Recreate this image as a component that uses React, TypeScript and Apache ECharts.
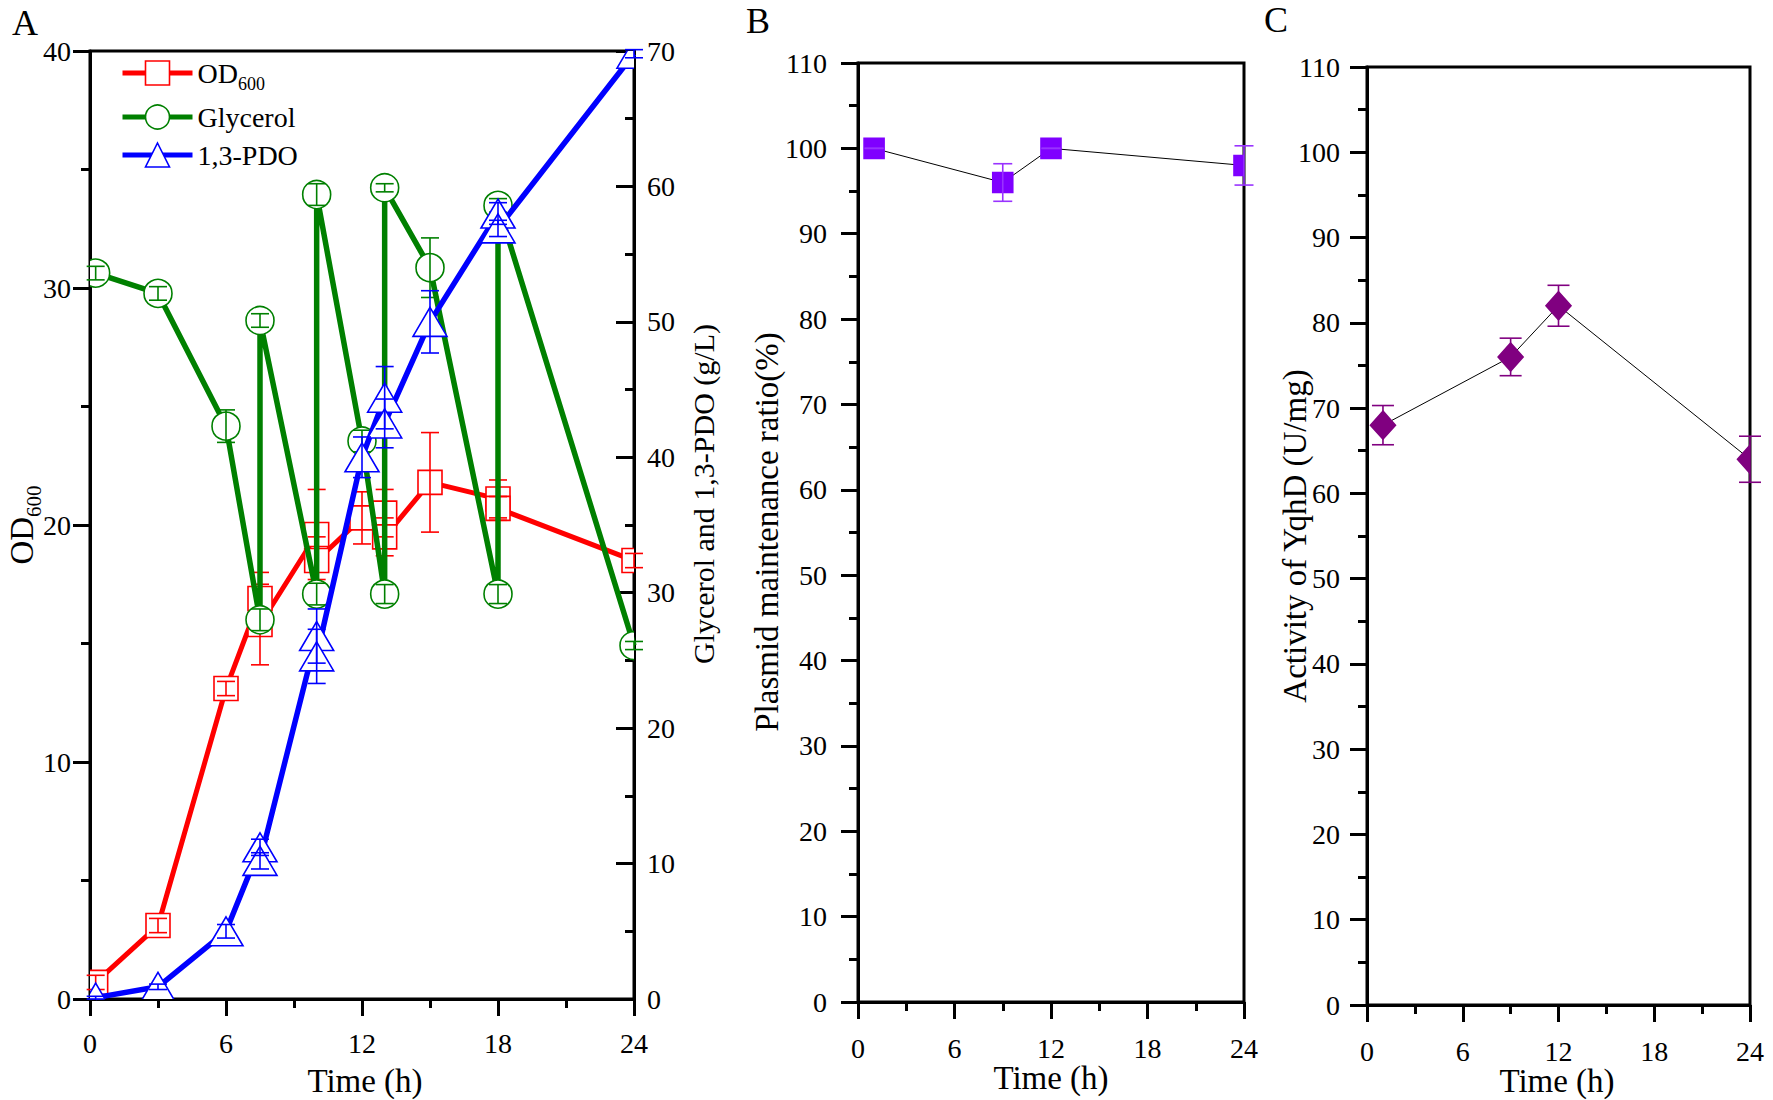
import React, { useEffect, useRef } from "react";
import * as echarts from "echarts";

const FONT = "'Liberation Serif', 'Times New Roman', serif";

// ---------- Panel A: fed-batch fermentation ----------
const sampleTimes = [0.25, 3, 6, 7.5, 7.5, 10, 10, 12, 13, 13, 15, 18, 18, 24];
const od600 = [0.7, 3.1, 13.1, 16.9, 15.8, 19.6, 18.5, 20.3, 20.5, 19.5, 21.8, 21.1, 20.7, 18.5];
const od600Err = [0.3, 0.3, 0.3, 1.1, 1.7, 1.9, 1.0, 1.1, 1.0, 0.8, 2.1, 0.8, 0.5, 0.3];
const glycerol = [53.6, 52.1, 42.3, 28.0, 50.1, 29.9, 59.4, 41.2, 29.9, 59.9, 54.0, 29.9, 58.6, 26.1];
const glycerolErr = [0.5, 0.5, 1.2, 0.8, 0.5, 0.8, 0.8, 0.8, 0.7, 0.3, 2.2, 0.7, 0.5, 0.3];
const pdo = [0.1, 0.9, 5.0, 11.2, 10.2, 26.8, 25.3, 40.0, 44.4, 42.5, 50.0, 58.0, 56.9, 69.8];
const pdoErr = [0.1, 0.2, 0.5, 0.6, 0.6, 2.0, 2.0, 1.5, 2.3, 1.8, 2.3, 0.8, 0.6, 0.3];
const seriesNamesA = ["OD600", "Glycerol", "1,3-PDO"];

// ---------- Panel B: plasmid maintenance ----------
const plasmidTimes = [1, 9, 12, 24];
const plasmidRatio = [100, 96, 100, 98];
const plasmidErr = [0, 2.2, 0, 2.3];

// ---------- Panel C: YqhD activity ----------
const activityTimes = [1, 9, 12, 24];
const yqhdActivity = [68, 76, 82, 64];
const yqhdErr = [2.3, 2.2, 2.4, 2.7];

// ---------- Axis ranges ----------
const timeRange = { min: 0, max: 24, interval: 6 };
const odRange = { min: 0, max: 40, interval: 10 };
const gLRange = { min: 0, max: 70, interval: 10 };
const pctRange = { min: 0, max: 110, interval: 10 };

const BLACK = "#000";
const RED = "#ff0000";
const GREEN = "#008000";
const BLUE = "#0000ff";
const VIOLET = "#7f00ff";
const PURPLE = "#800080";
const TICK_FS = 28;

const zip = (a: number[], b: number[]) => a.map((t, i) => [t, b[i]]);

function axisBase(range: any, gridIndex: number, labelMargin: number, extra: any = {}) {
  return {
    type: "value",
    gridIndex,
    ...range,
    axisLine: { show: true, onZero: false, lineStyle: { color: BLACK, width: 3 } },
    axisTick: { show: true, inside: false, length: 17, lineStyle: { color: BLACK, width: 3 } },
    minorTick: { show: true, splitNumber: 2, length: 9, lineStyle: { color: BLACK, width: 3 } },
    axisLabel: { margin: labelMargin, fontSize: TICK_FS, fontFamily: FONT, color: BLACK },
    splitLine: { show: false },
    minorSplitLine: { show: false },
    ...extra,
  };
}

function errorSeries(xi: number, yi: number, times: number[], vals: number[], errs: number[], color: string, cap: number, z: number) {
  return {
    type: "custom",
    name: "err" + z,
    xAxisIndex: xi,
    yAxisIndex: yi,
    z,
    silent: true,
    clip: false,
    encode: { x: 0, y: [1, 2] },
    data: times.map((t, i) => [t, vals[i] - errs[i], vals[i] + errs[i]]),
    renderItem: (_p: any, api: any) => {
      const x = api.value(0);
      const lo = api.coord([x, api.value(1)]);
      const hi = api.coord([x, api.value(2)]);
      const st = { stroke: color, lineWidth: 1.6, fill: null };
      return {
        type: "group",
        children: [
          { type: "line", shape: { x1: hi[0], y1: hi[1], x2: lo[0], y2: lo[1] }, style: st },
          { type: "line", shape: { x1: hi[0] - cap, y1: hi[1], x2: hi[0] + cap, y2: hi[1] }, style: st },
          { type: "line", shape: { x1: lo[0] - cap, y1: lo[1], x2: lo[0] + cap, y2: lo[1] }, style: st },
        ],
      };
    },
  };
}

function markerSeries(xi: number, yi: number, times: number[], vals: number[], shape: string, w: number, h: number, fill: string, stroke: string, z: number) {
  return {
    type: "custom",
    name: "mk" + z,
    xAxisIndex: xi,
    yAxisIndex: yi,
    z,
    silent: true,
    clip: true,
    encode: { x: 0, y: 1 },
    data: zip(times, vals),
    renderItem: (_p: any, api: any) => {
      const p = api.coord([api.value(0), api.value(1)]);
      const style = { fill, stroke, lineWidth: 1.6 };
      const hw = w / 2;
      const hh = h / 2;
      if (shape === "rect") {
        return { type: "rect", shape: { x: p[0] - hw, y: p[1] - hh, width: w, height: h }, style };
      }
      if (shape === "circle") {
        return { type: "circle", shape: { cx: p[0], cy: p[1], r: hw }, style };
      }
      if (shape === "triangle") {
        return {
          type: "polygon",
          shape: { points: [[p[0], p[1] - hh], [p[0] + hw, p[1] + hh], [p[0] - hw, p[1] + hh]] },
          style,
        };
      }
      return {
        type: "polygon",
        shape: { points: [[p[0], p[1] - hh], [p[0] + hw, p[1]], [p[0], p[1] + hh], [p[0] - hw, p[1]]] },
        style,
      };
    },
  };
}

function lineSeries(name: string, xi: number, yi: number, times: number[], vals: number[], color: string, width: number, symbol: string, z: number) {
  return {
    name,
    type: "line",
    xAxisIndex: xi,
    yAxisIndex: yi,
    z,
    data: zip(times, vals),
    symbol,
    showSymbol: false,
    silent: true,
    lineStyle: { color, width },
    itemStyle: { color: "#fff", borderColor: color, borderWidth: 1.6 },
  };
}

function titleText(text: string, x: number, y: number, size: number, rotate = false, rich?: any) {
  return {
    type: "text",
    x,
    y,
    rotation: rotate ? Math.PI / 2 : 0,
    silent: true,
    style: {
      text,
      fill: BLACK,
      fontSize: size,
      fontFamily: FONT,
      align: "center",
      verticalAlign: "middle",
      rich,
    },
  };
}

const subRich = (big: number, small: number, pad: number) => ({
  m: { fontSize: big, fontFamily: FONT, lineHeight: big + 2, fill: BLACK, color: BLACK },
  s: { fontSize: small, fontFamily: FONT, lineHeight: small, padding: [pad, 0, 0, 0], fill: BLACK, color: BLACK },
});

const option: any = {
  animation: false,
  backgroundColor: "#fff",
  textStyle: { fontFamily: FONT },
  grid: [
    { left: 90, top: 51, width: 544, height: 948, show: true, borderColor: BLACK, borderWidth: 3, backgroundColor: "transparent" },
    { left: 858, top: 63, width: 386, height: 939, show: true, borderColor: BLACK, borderWidth: 3, backgroundColor: "transparent" },
    { left: 1367, top: 67, width: 383, height: 938, show: true, borderColor: BLACK, borderWidth: 3, backgroundColor: "transparent" },
  ],
  legend: {
    orient: "vertical",
    left: 120,
    top: 53,
    padding: 0,
    itemGap: 10,
    itemWidth: 70,
    itemHeight: 30,
    selectedMode: false,
    lineStyle: { width: 5 },
    data: [
      { name: seriesNamesA[0], itemStyle: { color: "#fff", borderColor: RED, borderWidth: 1.6 } },
      { name: seriesNamesA[1], itemStyle: { color: "#fff", borderColor: GREEN, borderWidth: 1.6 } },
      { name: seriesNamesA[2], itemStyle: { color: "#fff", borderColor: BLUE, borderWidth: 1.6 } },
    ],
    formatter: (n: string) => (n === "OD600" ? "{m|OD}{s|600}" : "{m|" + n + "}"),
    textStyle: {
      color: BLACK,
      fontFamily: FONT,
      fontSize: 28,
      rich: subRich(28, 18, 22),
    },
  },
  xAxis: [
    axisBase(timeRange, 0, 30),
    axisBase(timeRange, 1, 32),
    axisBase(timeRange, 2, 32),
  ],
  yAxis: [
    axisBase(odRange, 0, 19, { position: "left" }),
    axisBase(gLRange, 0, 13, {
      position: "right",
      axisTick: { show: true, inside: true, length: 18, lineStyle: { color: BLACK, width: 3 } },
    }),
    axisBase(pctRange, 1, 31, { position: "left" }),
    axisBase(pctRange, 2, 27, { position: "left" }),
  ],
  series: [
    // Panel A
    lineSeries(seriesNamesA[0], 0, 0, sampleTimes, od600, RED, 5, "rect", 2),
    markerSeries(0, 0, sampleTimes, od600, "rect", 24, 24, "#fff", RED, 3),
    errorSeries(0, 0, sampleTimes, od600, od600Err, RED, 9, 4),
    lineSeries(seriesNamesA[1], 0, 1, sampleTimes, glycerol, GREEN, 5.5, "circle", 5),
    markerSeries(0, 1, sampleTimes, glycerol, "circle", 28, 28, "#fff", GREEN, 6),
    errorSeries(0, 1, sampleTimes, glycerol, glycerolErr, GREEN, 9, 7),
    lineSeries(seriesNamesA[2], 0, 1, sampleTimes, pdo, BLUE, 5.5, "triangle", 8),
    markerSeries(0, 1, sampleTimes, pdo, "triangle", 34, 29, "#fff", BLUE, 9),
    errorSeries(0, 1, sampleTimes, pdo, pdoErr, BLUE, 9, 10),
    // Panel B
    lineSeries("Plasmid maintenance ratio", 1, 2, plasmidTimes, plasmidRatio, BLACK, 1, "rect", 2),
    markerSeries(1, 2, plasmidTimes, plasmidRatio, "rect", 20, 20, VIOLET, VIOLET, 3),
    errorSeries(1, 2, plasmidTimes, plasmidRatio, plasmidErr, "#9933ff", 9.5, 4),
    // Panel C
    lineSeries("Activity of YqhD", 2, 3, activityTimes, yqhdActivity, BLACK, 1, "diamond", 2),
    markerSeries(2, 3, activityTimes, yqhdActivity, "diamond", 25, 28, PURPLE, PURPLE, 3),
    errorSeries(2, 3, activityTimes, yqhdActivity, yqhdErr, PURPLE, 11, 4),
  ],
  graphic: [
    { type: "text", x: 12, y: 23, silent: true, style: { text: "A", fill: BLACK, fontSize: 36, fontFamily: FONT, align: "left", verticalAlign: "middle" } },
    { type: "text", x: 746, y: 21, silent: true, style: { text: "B", fill: BLACK, fontSize: 36, fontFamily: FONT, align: "left", verticalAlign: "middle" } },
    { type: "text", x: 1264, y: 20, silent: true, style: { text: "C", fill: BLACK, fontSize: 36, fontFamily: FONT, align: "left", verticalAlign: "middle" } },
    titleText("Time (h)", 365, 1081, 33),
    titleText("Time (h)", 1051, 1078, 33),
    titleText("Time (h)", 1557, 1081, 33),
    titleText("{m|OD}{s|600}", 22, 525, 33, true, subRich(33, 21, 24)),
    titleText("Glycerol and 1,3-PDO (g/L)", 703, 494, 30, true),
    titleText("Plasmid maintenance ratio(%)", 767, 532, 33, true),
    titleText("Activity of YqhD (U/mg)", 1295, 536, 33, true),
  ],
};

export default function App() {
  const ref = useRef<HTMLDivElement>(null);
  useEffect(() => {
    if (!ref.current) return;
    const chart = echarts.init(ref.current, null, { renderer: "svg" });
    chart.setOption(option);
    return () => chart.dispose();
  }, []);
  return (
    <div
      ref={ref}
      style={{ position: "absolute", left: 0, top: 0, width: 1773, height: 1100, background: "#fff" }}
    />
  );
}
